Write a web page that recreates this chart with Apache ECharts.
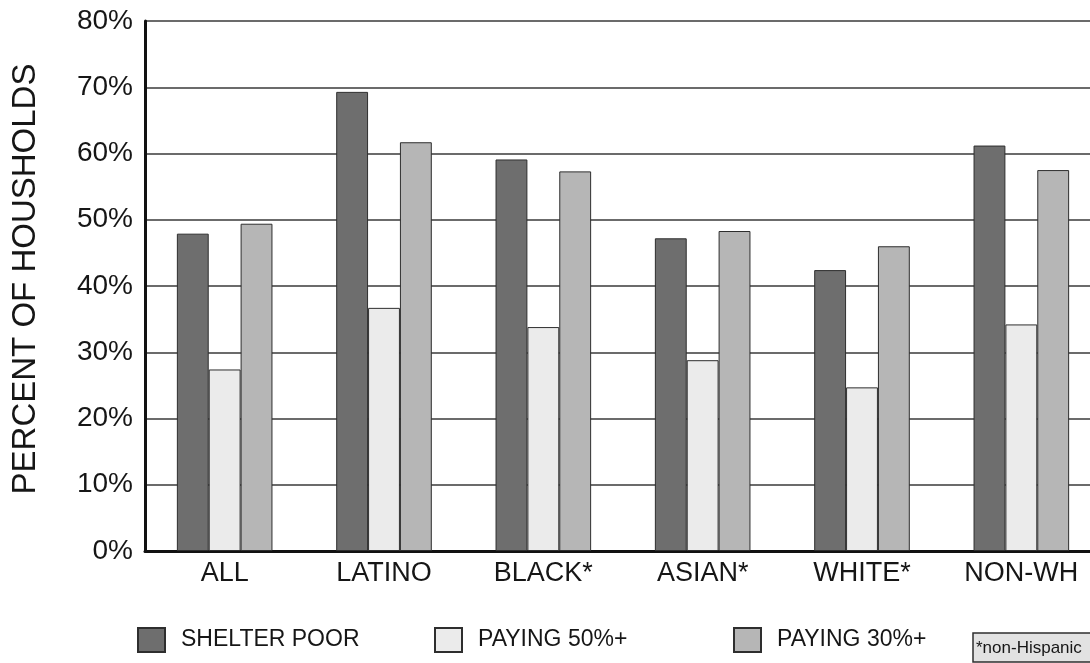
<!DOCTYPE html>
<html>
<head>
<meta charset="utf-8">
<script src="https://cdn.jsdelivr.net/npm/echarts@6/dist/echarts.min.js"></script>
<style>
  html, body { margin: 0; padding: 0; background: #fff; }
  #chart { width: 1090px; height: 663px; }
</style>
</head>
<body>
<div id="chart"></div>
<script>
// Housing cost burden by group (share of households, %)
const categories = ['ALL', 'LATINO', 'BLACK*', 'ASIAN*', 'WHITE*', 'NON-WH'];
const shelterPoor = [47.9, 69.3, 59.1, 47.2, 42.4, 61.2];
const paying50 = [27.4, 36.7, 33.8, 28.8, 24.7, 34.2];
const paying30 = [49.4, 61.7, 57.3, 48.3, 46.0, 57.5];
const seriesNames = ['SHELTER POOR', 'PAYING 50%+', 'PAYING 30%+'];
const yTicks = [0, 10, 20, 30, 40, 50, 60, 70, 80];

const FONT = '"Liberation Sans", Arial, Helvetica, sans-serif';
const chart = echarts.init(document.getElementById('chart'), null, { renderer: 'canvas' });

function barSeries(name, data, color) {
  return {
    name: name,
    type: 'bar',
    data: data,
    barGap: '0%',
    barCategoryGap: '40%',
    itemStyle: { color: color, borderColor: '#2e2e2e', borderWidth: 1 },
    emphasis: { disabled: true }
  };
}

// one legend block per series so each entry sits at its own spot
const legendLefts = [132, 429, 728];
const legends = seriesNames.map(function (name, i) {
  return {
    left: legendLefts[i],
    top: 622,
    itemWidth: 27,
    itemHeight: 24,
    icon: 'rect',
    selectedMode: false,
    textStyle: { fontSize: 23, color: '#161616', fontFamily: FONT, padding: [0, 0, 0, 11] },
    data: [name]
  };
});

chart.setOption({
  animation: false,
  backgroundColor: '#ffffff',
  textStyle: { fontFamily: FONT },
  // plot area runs a little past the right edge of the page
  grid: { left: 145, right: -11, top: 21, bottom: 112, containLabel: false, outerBoundsMode: 'none' },
  xAxis: {
    type: 'category',
    data: categories,
    axisLine: { lineStyle: { color: '#111', width: 3 } },
    axisTick: { show: false },
    axisLabel: { fontSize: 27, color: '#161616', margin: 9, fontFamily: FONT },
    splitLine: { show: false }
  },
  yAxis: {
    type: 'value',
    min: yTicks[0],
    max: yTicks[yTicks.length - 1],
    interval: yTicks[1] - yTicks[0],
    axisLine: { show: true, lineStyle: { color: '#111', width: 3 } },
    axisTick: { show: false },
    axisLabel: { formatter: '{value}%', fontSize: 28, color: '#161616', margin: 12, fontFamily: FONT },
    splitLine: { lineStyle: { color: '#3a3a3a', width: 1.5 } }
  },
  legend: legends,
  graphic: [
    {
      type: 'text',
      x: 26,
      y: 279,
      rotation: Math.PI / 2,
      style: {
        text: 'PERCENT OF HOUSHOLDS',
        font: '33px ' + FONT,
        fill: '#161616',
        align: 'center',
        verticalAlign: 'middle'
      }
    },
    {
      type: 'group',
      x: 973,
      y: 633,
      children: [
        {
          type: 'rect',
          shape: { x: 0, y: 0, width: 130, height: 29 },
          style: { fill: '#e2e2e2', stroke: '#2e2e2e', lineWidth: 1.5 }
        },
        {
          type: 'text',
          x: 3, y: 15,
          style: {
            text: '*non-Hispanic',
            font: '17px ' + FONT,
            fill: '#161616',
            verticalAlign: 'middle'
          }
        }
      ]
    }
  ],
  series: [
    barSeries(seriesNames[0], shelterPoor, '#6e6e6e'),
    barSeries(seriesNames[1], paying50, '#ebebeb'),
    barSeries(seriesNames[2], paying30, '#b6b6b6')
  ]
});
</script>
</body>
</html>
